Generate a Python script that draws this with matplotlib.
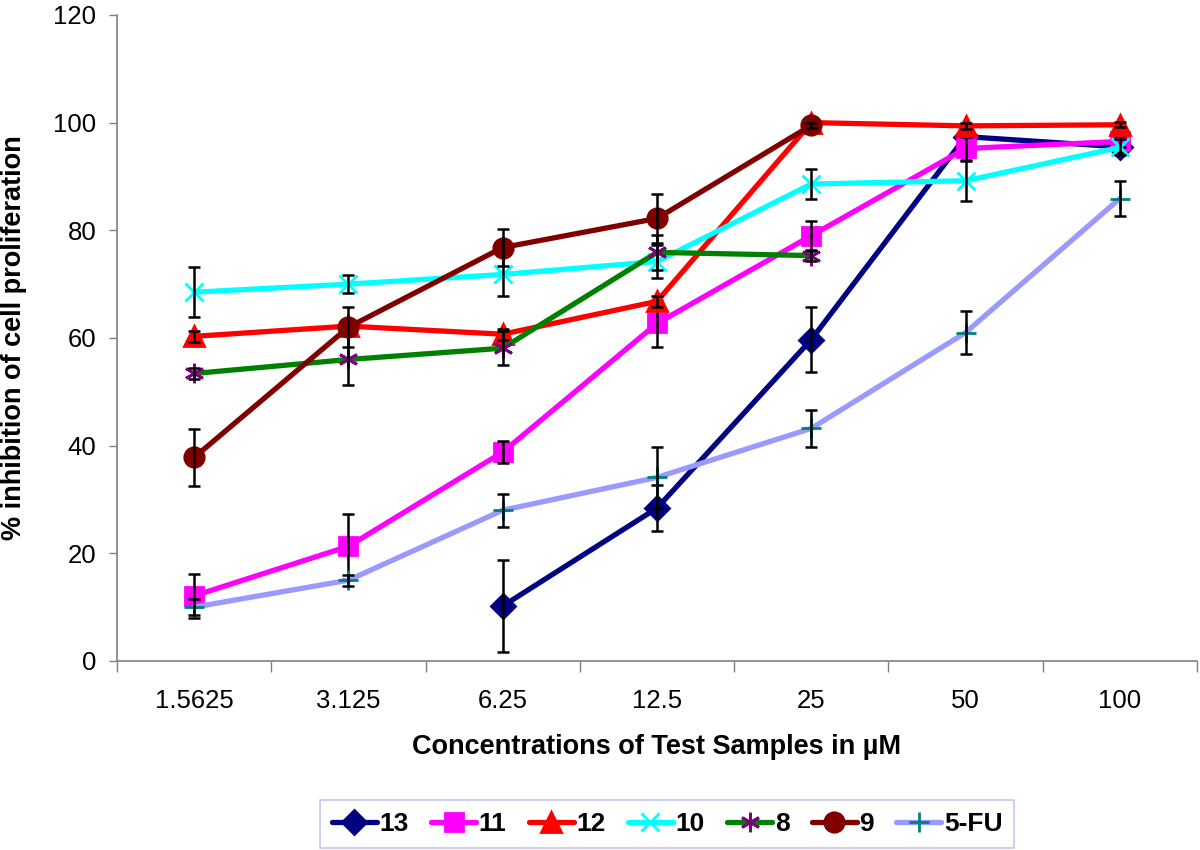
import numpy as np
import matplotlib
matplotlib.use('Agg')
import matplotlib.pyplot as plt
from matplotlib.ticker import FixedLocator, NullFormatter

plt.rcParams['font.family'] = ['Liberation Sans', 'DejaVu Sans']

#----------data
concentrations = ['1.5625', '3.125', '6.25', '12.5', '25', '50', '100']
nan = np.nan

series_names = ['13', '11', '12', '10', '8', '9', '5-FU']
vals_13 = [nan, nan, 10.2, 28.4, 59.7, 97.4, 95.5]
vals_11 = [12.1, 21.3, 38.8, 62.7, 79.0, 95.2, 96.5]
vals_12 = [60.3, 62.2, 60.7, 66.8, 100.0, 99.4, 99.6]
vals_10 = [68.5, 70.0, 71.8, 74.2, 88.6, 89.2, 95.4]
vals_8 = [53.4, 56.0, 58.1, 75.9, 75.3, nan, nan]
vals_9 = [37.8, 62.0, 76.8, 82.2, 99.5, nan, nan]
vals_5fu = [10.0, 15.0, 28.0, 34.1, 43.2, 61.0, 85.9]

err_13 = [nan, nan, 8.6, 4.2, 6.0, 1.5, 1.0]
err_11 = [4.1, 6.0, 2.0, 4.3, 2.8, 2.2, 1.0]
err_12 = [1.0, 1.0, 1.0, 1.0, 0.5, 0.5, 0.5]
err_10 = [4.6, 1.7, 4.0, 3.0, 2.7, 3.7, 1.5]
err_8 = [1.0, 4.8, 3.2, 3.2, 1.0, nan, nan]
err_9 = [5.3, 3.7, 3.4, 4.6, 0.5, nan, nan]
err_5fu = [1.5, 1.0, 3.1, 5.6, 3.4, 4.0, 3.2]

all_vals = [vals_13, vals_11, vals_12, vals_10, vals_8, vals_9, vals_5fu]
all_errs = [err_13, err_11, err_12, err_10, err_8, err_9, err_5fu]

# line colour, marker, marker colour, marker size
styles = [('#000080', 'D', '#000080', 12),
          ('#FF00FF', 's', '#FF00FF', 13),
          ('#FF0000', '^', '#FF0000', 14),
          ('#00FFFF', 'x', '#00FFFF', 13),
          ('#008000', (6, 2, 0), '#800080', 14),
          ('#800000', 'o', '#800000', 14),
          ('#9999FF', '+', '#008080', 14)]

#----------plot
fig = plt.figure(figsize=(12, 8.5), dpi=100)
ax = fig.add_axes([0.0975, 0.2224, 0.9, 0.760])
x = np.arange(len(concentrations))

handles = []
for i, (vals, errs, name) in enumerate(zip(all_vals, all_errs, series_names)):
    lc, mk, mc, ms = styles[i]
    z = 3 + i * 0.1
    h, = ax.plot(x, vals, color=lc, lw=3.8, marker=mk, markersize=ms,
                 markerfacecolor=mc, markeredgecolor=mc, markeredgewidth=2,
                 label=name, zorder=z, solid_capstyle='round')
    ax.errorbar(x, vals, yerr=errs, fmt='none', ecolor='black', elinewidth=1.8,
                capsize=4.5, capthick=1.8, zorder=z + 0.05)
    handles.append(h)

ax.set_xlim(-0.5, len(concentrations) - 0.5)
ax.set_ylim(0, 120)
ax.set_yticks(np.arange(0, 121, 20))
ax.set_xticks(x)
ax.set_xticklabels(concentrations)
ax.xaxis.set_minor_locator(FixedLocator(np.arange(-0.5, len(concentrations), 1.0)))
ax.xaxis.set_minor_formatter(NullFormatter())
ax.tick_params(axis='x', which='major', length=0, pad=20, labelsize=18.5)
ax.tick_params(axis='x', which='minor', length=8, width=1, color='#808080', direction='out')
ax.tick_params(axis='y', length=6, width=1, color='#808080', pad=9, labelsize=18.5)

for s in ['top', 'right']:
    ax.spines[s].set_visible(False)
for s in ['left', 'bottom']:
    ax.spines[s].set_color('#808080')
    ax.spines[s].set_linewidth(1.2)

ax.text(0.5, -(747 - 661) / 646, 'Concentrations of Test Samples in µM',
        transform=ax.transAxes, ha='center', va='center', fontsize=19.5, fontweight='bold')
ax.text(-0.0954, 0.5, '% inhibition of cell proliferation', transform=ax.transAxes,
        rotation=90, ha='center', va='center', fontsize=19.5, fontweight='bold')

leg = fig.legend(handles=handles, loc='center', bbox_to_anchor=(0.556, 0.0306), ncol=7,
                 frameon=True, fancybox=False, edgecolor='#b8b8e8',
                 prop={'weight': 'bold', 'size': 19}, handlelength=1.7,
                 handletextpad=0.1, columnspacing=0.85, borderpad=0.45)
leg.get_frame().set_linewidth(1.2)

fig.savefig('out.png', dpi=100)
